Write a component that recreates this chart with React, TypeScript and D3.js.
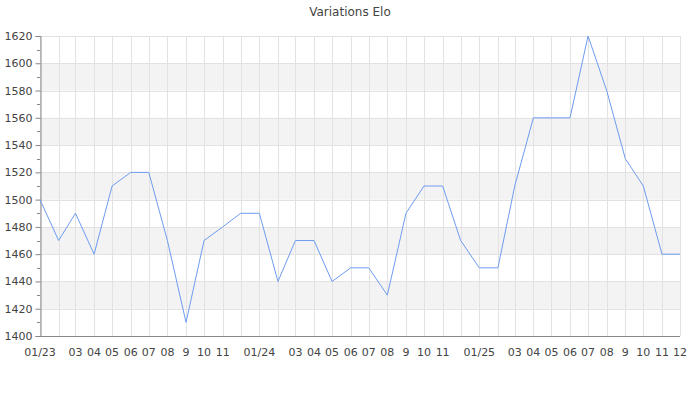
import React, { useEffect, useRef } from 'react';
import * as d3 from 'd3';

// months (first of month) and Elo values
const months = [
  '2023-01', '2023-02', '2023-03', '2023-04', '2023-05', '2023-06',
  '2023-07', '2023-08', '2023-09', '2023-10', '2023-11', '2023-12',
  '2024-01', '2024-02', '2024-03', '2024-04', '2024-05', '2024-06',
  '2024-07', '2024-08', '2024-09', '2024-10', '2024-11', '2024-12',
  '2025-01', '2025-02', '2025-03', '2025-04', '2025-05', '2025-06',
  '2025-07', '2025-08', '2025-09', '2025-10', '2025-11', '2025-12',
];

const elo = [
  1500, 1470, 1490, 1460, 1510, 1520, 1520, 1470, 1410, 1470, 1480, 1490,
  1490, 1440, 1470, 1470, 1440, 1450, 1450, 1430, 1490, 1510, 1510, 1470,
  1450, 1450, 1510, 1560, 1560, 1560, 1620, 1580, 1530, 1510, 1460, 1460,
];

// tick labels as shown (some hidden in the original)
const tickLabels = [
  '01/23', '', '03', '04', '05', '06', '07', '08', '9', '10', '11', '',
  '01/24', '', '03', '04', '05', '06', '07', '08', '9', '10', '11', '',
  '01/25', '', '03', '04', '05', '06', '07', '08', '9', '10', '11', '12',
];

const yTicks = [1400, 1420, 1440, 1460, 1480, 1500, 1520, 1540, 1560, 1580, 1600, 1620];
const yMinor = [1410, 1430, 1450, 1470, 1490, 1510, 1530, 1550, 1570, 1590, 1610];

const title = 'Variations Elo';

const App = () => {
  const ref = useRef<SVGSVGElement | null>(null);

  useEffect(() => {
    if (!ref.current) return;
    const svg = d3.select(ref.current);
    svg.selectAll('*').remove();

    const width = 700;
    const height = 400;
    const margin = { top: 36, right: 20, bottom: 64, left: 40 };
    const font = 'DejaVu Sans, sans-serif';

    const parse = d3.timeParse('%Y-%m');
    const dates = months.map(m => parse(m) as Date);

    const x = d3.scaleTime()
      .domain([dates[0], dates[dates.length - 1]])
      .range([margin.left, width - margin.right]);

    const y = d3.scaleLinear()
      .domain([1400, 1620])
      .range([height - margin.bottom, margin.top]);

    // alternating bands
    const bands = yTicks.slice(0, -1).filter((_, i) => i % 2 === 1);
    svg.append('g')
      .selectAll('rect')
      .data(bands)
      .join('rect')
      .attr('x', margin.left)
      .attr('width', width - margin.right - margin.left)
      .attr('y', d => y(d + 20))
      .attr('height', d => y(d) - y(d + 20))
      .attr('fill', '#f3f3f3');

    // horizontal grid
    svg.append('g')
      .selectAll('line')
      .data(yTicks)
      .join('line')
      .attr('x1', margin.left)
      .attr('x2', width - margin.right)
      .attr('y1', d => Math.round(y(d)) + 0.5)
      .attr('y2', d => Math.round(y(d)) + 0.5)
      .attr('stroke', '#e2e2e2');

    // vertical grid
    svg.append('g')
      .selectAll('line')
      .data(dates)
      .join('line')
      .attr('x1', d => Math.round(x(d)) + 0.5)
      .attr('x2', d => Math.round(x(d)) + 0.5)
      .attr('y1', margin.top)
      .attr('y2', height - margin.bottom)
      .attr('stroke', '#e2e2e2');

    // y axis
    const yAxis = svg.append('g')
      .attr('transform', `translate(${margin.left + 0.5},0)`)
      .call(d3.axisLeft(y).tickValues(yTicks).tickSize(5).tickPadding(3).tickFormat(d3.format('d')));
    yAxis.select('.domain').attr('stroke', '#888');
    yAxis.selectAll('.tick line').attr('stroke', '#888');
    yAxis.selectAll('.tick text')
      .attr('fill', '#444')
      .style('font-family', font)
      .style('font-size', '11px');

    svg.append('g')
      .selectAll('line')
      .data(yMinor)
      .join('line')
      .attr('x1', margin.left - 3)
      .attr('x2', margin.left)
      .attr('y1', d => Math.round(y(d)) + 0.5)
      .attr('y2', d => Math.round(y(d)) + 0.5)
      .attr('stroke', '#888');

    // x axis line
    svg.append('line')
      .attr('x1', margin.left)
      .attr('x2', width - margin.right)
      .attr('y1', height - margin.bottom + 0.5)
      .attr('y2', height - margin.bottom + 0.5)
      .attr('stroke', '#888');

    // x labels
    svg.append('g')
      .selectAll('text')
      .data(dates)
      .join('text')
      .attr('x', d => x(d))
      .attr('y', height - margin.bottom + 20)
      .attr('text-anchor', 'middle')
      .attr('fill', '#444')
      .style('font-family', font)
      .style('font-size', '11px')
      .text((_, i) => tickLabels[i]);

    // line
    const line = d3.line<number>()
      .x((_, i) => x(dates[i]))
      .y(d => y(d));

    svg.append('path')
      .datum(elo)
      .attr('fill', 'none')
      .attr('stroke', '#6d9cf0')
      .attr('stroke-width', 1)
      .attr('d', line);

    // title
    svg.append('text')
      .attr('x', width / 2)
      .attr('y', 16)
      .attr('text-anchor', 'middle')
      .attr('fill', '#444')
      .style('font-family', font)
      .style('font-size', '12px')
      .text(title);
  }, []);

  return (
    <svg
      ref={ref}
      width={700}
      height={400}
      style={{ position: 'absolute', left: 0, top: 0, background: '#fff' }}
    />
  );
};

export default App;
